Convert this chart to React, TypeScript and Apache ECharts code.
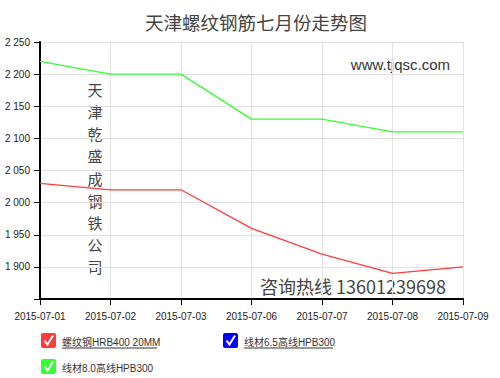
import React, { useEffect, useRef } from "react";
import * as echarts from "echarts";

const categories = ["2015-07-01", "2015-07-02", "2015-07-03", "2015-07-06", "2015-07-07", "2015-07-08", "2015-07-09"];
const seriesNames = ["螺纹钢HRB400 20MM", "线材6.5高线HPB300", "线材8.0高线HPB300"];
const seriesColors = ["#ff3b3b", "#0000ff", "#33ff33"];
const rebarValues = [2030, 2020, 2020, 1960, 1920, 1890, 1900];
const wire65Values: (number | null)[] = [null, null, null, null, null, null, null];
const wire80Values = [2220, 2200, 2200, 2130, 2130, 2110, 2110];
const yMin = 1850;
const yMax = 2250;
const yInterval = 50;

const titleText = "天津螺纹钢筋七月份走势图";
const siteText = "www.tjqsc.com";
const companyChars = ["天", "津", "乾", "盛", "成", "钢", "铁", "公", "司"];
const hotlineText = "咨询热线 13601239698";

function fmt(v: number): string {
  const s = String(Math.round(v));
  return s.replace(/\B(?=(\d{3})+(?!\d))/g, " ");
}

function legendItem(x: number, y: number, color: string, name: string, underline: boolean, textW: number) {
  const children: any[] = [
    { type: "rect", shape: { x: x, y: y, width: 15, height: 15, r: 2 }, style: { fill: color } },
    {
      type: "polyline",
      shape: { points: [[x + 3.5, y + 7.5], [x + 6.5, y + 11.5], [x + 12, y + 2.5]] },
      style: { stroke: "#fff", lineWidth: 2, fill: null },
    },
    {
      type: "text",
      x: x + 21,
      y: y + 9,
      style: { text: name, fontSize: 10, fontFamily: "Arial, 'Liberation Sans', 'Noto Sans CJK SC'", fill: "#333", textVerticalAlign: "middle", textAlign: "left" },
    },
  ];
  if (underline) {
    children.push({
      type: "line",
      shape: { x1: x + 21, y1: y + 15, x2: x + 21 + textW, y2: y + 15 },
      style: { stroke: "#333", lineWidth: 1 },
    });
  }
  return { type: "group", children };
}

export default function App() {
  const ref = useRef<HTMLDivElement>(null);
  useEffect(() => {
    document.body.style.margin = "0";
    if (!ref.current) return;
    const chart = echarts.init(ref.current, null, { renderer: "svg" });
    chart.setOption({
      animation: false,
      backgroundColor: "#fff",
      grid: { left: 40, right: 37, top: 42, bottom: 79, containLabel: false },
      legend: { show: false },
      xAxis: {
        type: "category",
        data: categories,
        boundaryGap: false,
        axisLine: { lineStyle: { color: "#000", width: 2 } },
        axisTick: { show: true, length: 6, lineStyle: { color: "#000", width: 1 }, alignWithLabel: true },
        axisLabel: { color: "#222", fontSize: 10, fontFamily: "Arial, 'Liberation Sans'", margin: 12, interval: 0 },
        splitLine: { show: true, lineStyle: { color: "#e2e2e2", width: 1 } },
      },
      yAxis: {
        type: "value",
        min: yMin,
        max: yMax,
        interval: yInterval,
        axisLine: { show: true, lineStyle: { color: "#000", width: 2 } },
        axisTick: { show: true, length: 6, lineStyle: { color: "#000", width: 1 } },
        axisLabel: {
          color: "#222",
          fontSize: 10,
          fontFamily: "Arial, 'Liberation Sans'",
          margin: 10,
          formatter: (v: number) => (v === yMin ? "" : fmt(v)),
        },
        splitLine: { show: true, lineStyle: { color: "#e2e2e2", width: 1 } },
      },
      series: [
        { name: seriesNames[0], type: "line", data: rebarValues, symbol: "none", lineStyle: { color: seriesColors[0], width: 1.3 }, itemStyle: { color: seriesColors[0] } },
        { name: seriesNames[1], type: "line", data: wire65Values, symbol: "none", lineStyle: { color: seriesColors[1], width: 1.3 }, itemStyle: { color: seriesColors[1] } },
        { name: seriesNames[2], type: "line", data: wire80Values, symbol: "none", lineStyle: { color: seriesColors[2], width: 1.3 }, itemStyle: { color: seriesColors[2] } },
      ],
      graphic: [
        {
          type: "text",
          x: 256,
          y: 22,
          style: { text: titleText, fontSize: 18.5, fontFamily: "'Noto Sans CJK SC'", fill: "#444", textAlign: "center", textVerticalAlign: "middle" },
        },
        {
          type: "text",
          x: 450,
          y: 64,
          style: { text: siteText, fontSize: 15, fontFamily: "Arial, 'Liberation Sans'", fill: "#333", textAlign: "right", textVerticalAlign: "middle" },
        },
        ...companyChars.map((ch, i) => ({
          type: "text",
          x: 95,
          y: 89.3 + i * 22.2,
          style: {
            text: ch,
            fontSize: 15,
            fontFamily: "'Noto Sans CJK SC'",
            fill: "#444",
            textAlign: "center",
            textVerticalAlign: "middle",
          },
        })),
        {
          type: "text",
          x: 260,
          y: 286,
          style: { text: hotlineText, fontSize: 18, fontFamily: "'Noto Sans CJK SC', Arial", fill: "#444", textAlign: "left", textVerticalAlign: "middle" },
        },
        legendItem(41, 333, seriesColors[0], seriesNames[0], true, 95),
        legendItem(223, 333, seriesColors[1], seriesNames[1], true, 89),
        legendItem(41, 359, seriesColors[2], seriesNames[2], false, 95),
      ],
    });
    return () => chart.dispose();
  }, []);
  return <div ref={ref} style={{ width: 500, height: 378 }} />;
}
